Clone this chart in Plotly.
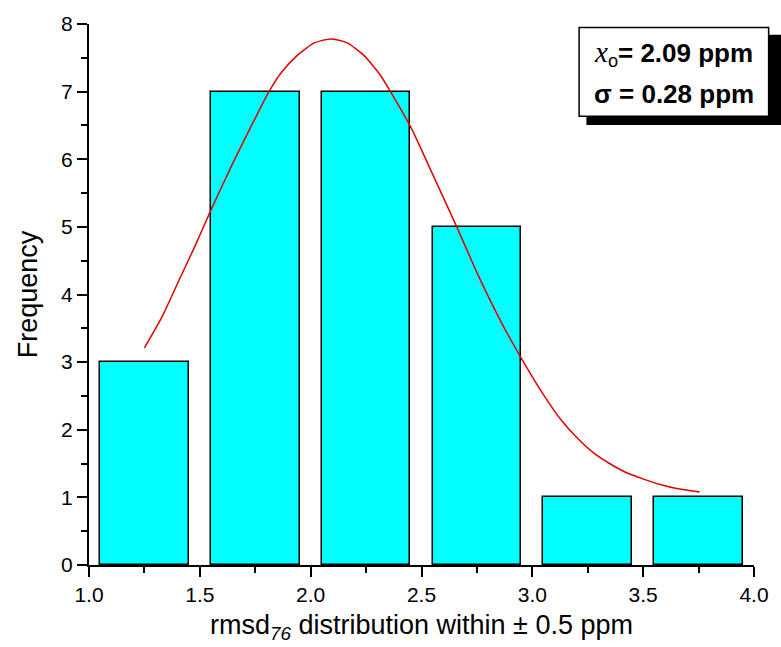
import plotly.graph_objects as go

# Histogram data
bin_centers = [1.25, 1.75, 2.25, 2.75, 3.25, 3.75]
frequency = [3, 7, 7, 5, 1, 1]
bar_width = 0.4

# Fitted curve, points
curve_x = [1.250, 1.331, 1.406, 1.480, 1.549, 1.644, 1.718, 1.810, 1.867, 1.941,
           2.016, 2.090, 2.165, 2.239, 2.313, 2.362, 2.454, 2.536, 2.659, 2.759, 2.863,
           2.955, 3.056, 3.131, 3.205, 3.279, 3.354, 3.428, 3.502, 3.577, 3.651, 3.755]
curve_y = [3.21, 3.68, 4.21, 4.73, 5.24, 5.91, 6.40, 6.99, 7.28, 7.54,
           7.72, 7.78, 7.72, 7.54, 7.25, 6.99, 6.46, 5.88, 5.00, 4.26, 3.57,
           3.03, 2.49, 2.14, 1.87, 1.65, 1.49, 1.36, 1.27, 1.19, 1.13, 1.08]

x_ticks = [1.0, 1.5, 2.0, 2.5, 3.0, 3.5, 4.0]
y_ticks = [0, 1, 2, 3, 4, 5, 6, 7, 8]

x_title = "rmsd<sub><i>76</i></sub> distribution within ± 0.5 ppm"
y_title = "Frequency"
box_line1 = "<span style='font-family:Liberation Serif;font-size:29px'><i>x</i></span><sub>o</sub><b>= 2.09 ppm</b>"
box_line2 = "<b>σ = 0.28 ppm</b>"

FONT = "Liberation Sans, Arial, sans-serif"

fig = go.Figure()
fig.add_trace(go.Bar(
    x=bin_centers, y=frequency, width=bar_width,
    marker=dict(color="#00FFFF", line=dict(color="black", width=1.5)),
    showlegend=False,
))
fig.add_trace(go.Scatter(
    x=curve_x, y=curve_y, mode="lines",
    line=dict(color="#E00000", width=1.5, shape="spline", smoothing=0.6),
    showlegend=False,
))

axis_common = dict(
    showline=True, linecolor="black", linewidth=2, mirror=False,
    ticks="outside", ticklen=10, tickwidth=2, tickcolor="black",
    showgrid=False, zeroline=False,
    tickfont=dict(family=FONT, size=21, color="black"),
)

fig.update_xaxes(
    range=[1.0, 4.0], tickvals=x_ticks, ticktext=[f"{v:.1f}" for v in x_ticks],
    minor=dict(ticks="outside", ticklen=6, tickwidth=2, tickcolor="black", dtick=0.25, tick0=1.0),
    title=dict(text=x_title, font=dict(family=FONT, size=27, color="black"), standoff=10),
    **axis_common,
)
fig.update_yaxes(
    range=[0, 8], tickvals=y_ticks,
    minor=dict(ticks="outside", ticklen=6, tickwidth=2, tickcolor="black", dtick=0.5, tick0=0),
    title=dict(text=y_title, font=dict(family=FONT, size=27, color="black"), standoff=16),
    **axis_common,
)

# Parameter box with drop shadow
fig.add_shape(type="rect", xref="paper", yref="paper", x0=0.748, x1=1.05, y0=0.8135, y1=0.980,
              fillcolor="black", line=dict(width=0), layer="above")
fig.add_shape(type="rect", xref="paper", yref="paper", x0=0.737, x1=1.022, y0=0.8294, y1=0.9937,
              fillcolor="white", line=dict(color="black", width=1.5), layer="above")
fig.add_annotation(xref="paper", yref="paper", x=0.879, y=0.945, text=box_line1, showarrow=False,
                   font=dict(family=FONT, size=26, color="black"), xanchor="center", yanchor="middle")
fig.add_annotation(xref="paper", yref="paper", x=0.879, y=0.870, text=box_line2, showarrow=False,
                   font=dict(family=FONT, size=26, color="black"), xanchor="center", yanchor="middle")

fig.update_layout(
    width=781, height=647,
    margin=dict(l=89, r=19, t=23, b=82, pad=0),
    plot_bgcolor="white", paper_bgcolor="white",
    bargap=0,
)

fig.write_html("out.html")
